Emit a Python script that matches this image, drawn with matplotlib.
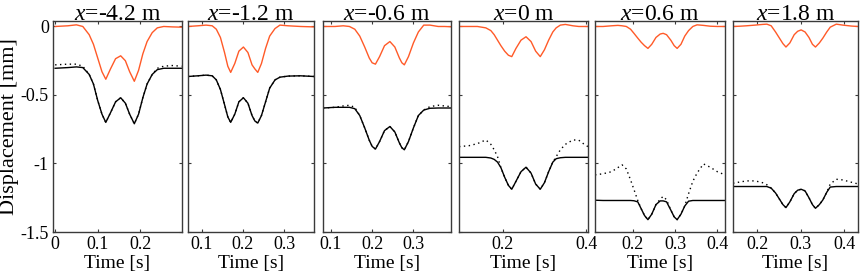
import matplotlib
matplotlib.use("Agg")
import matplotlib.pyplot as plt

plt.rcParams['font.family'] = ['Liberation Serif', 'DejaVu Serif']
plt.rcParams['mathtext.fontset'] = 'custom'
plt.rcParams['mathtext.rm'] = 'Liberation Serif'
plt.rcParams['mathtext.it'] = 'Liberation Serif:italic'

# panel titles (sensor position) and x limits
titles = ['-4.2', '-1.2', '-0.6', '0', '0.6', '1.8']
xlims = [(-0.005, 0.298), (0.066, 0.373), (0.081, 0.391),
         (0.096, 0.404), (0.111, 0.418), (0.144, 0.432)]
xticks = [[0, 0.1, 0.2], [0.1, 0.2, 0.3], [0.1, 0.2, 0.3],
          [0.2, 0.4], [0.2, 0.3, 0.4], [0.2, 0.3, 0.4]]

# x = -4.2 m
t1 = [0, 0.03, 0.05, 0.065, 0.08, 0.09, 0.1, 0.11, 0.119, 0.13, 0.142, 0.154,
      0.165, 0.175, 0.186, 0.196, 0.206, 0.216, 0.228, 0.24, 0.255, 0.275, 0.297]
top1 = [0, 0.005, 0.012, 0.0, -0.06, -0.13, -0.23, -0.33, -0.385, -0.31, -0.235, -0.214,
        -0.25, -0.33, -0.40, -0.32, -0.2, -0.11, -0.045, -0.01, 0.0, -0.003, -0.005]
bot1 = [-0.305, -0.30, -0.295, -0.30, -0.35, -0.42, -0.54, -0.64, -0.70, -0.63, -0.55, -0.52,
        -0.56, -0.64, -0.71, -0.64, -0.52, -0.42, -0.35, -0.315, -0.305, -0.305, -0.305]
mod1 = [-0.28, -0.275, -0.275, -0.29, -0.35, -0.42, -0.54, -0.64, -0.70, -0.63, -0.55, -0.52,
        -0.56, -0.64, -0.71, -0.64, -0.52, -0.42, -0.35, -0.305, -0.29, -0.285, -0.29]

# x = -1.2 m
t2 = [0.066, 0.09, 0.11, 0.125, 0.135, 0.145, 0.155, 0.163, 0.170, 0.18, 0.19, 0.201,
      0.212, 0.222, 0.229, 0.236, 0.245, 0.255, 0.265, 0.278, 0.29, 0.31, 0.34, 0.373]
top2 = [0.0, 0.005, 0.01, 0.005, -0.02, -0.08, -0.19, -0.29, -0.335, -0.27, -0.18, -0.15,
        -0.19, -0.28, -0.31, -0.335, -0.27, -0.16, -0.07, -0.015, 0.01, 0.005, 0.0, -0.003]
bot2 = [-0.365, -0.36, -0.355, -0.36, -0.39, -0.46, -0.57, -0.66, -0.70, -0.64, -0.55, -0.52,
        -0.56, -0.65, -0.69, -0.705, -0.65, -0.55, -0.45, -0.39, -0.37, -0.362, -0.36, -0.365]
mod2 = bot2

# x = -0.6 m
t3 = [0.081, 0.11, 0.13, 0.145, 0.158, 0.17, 0.182, 0.193, 0.2, 0.208, 0.218, 0.23, 0.243,
      0.255, 0.266, 0.272, 0.278, 0.288, 0.3, 0.312, 0.325, 0.34, 0.36, 0.375, 0.391]
top3 = [0.0, 0.0, 0.005, 0.0, -0.02, -0.07, -0.15, -0.23, -0.265, -0.275, -0.22, -0.14, -0.11,
        -0.15, -0.23, -0.265, -0.28, -0.22, -0.12, -0.04, 0.01, 0.01, 0.0, 0.0, -0.002]
bot3 = [-0.595, -0.59, -0.59, -0.59, -0.60, -0.65, -0.74, -0.83, -0.875, -0.895, -0.84, -0.76, -0.73,
        -0.77, -0.85, -0.885, -0.90, -0.84, -0.74, -0.65, -0.61, -0.597, -0.595, -0.595, -0.595]
mod3 = [-0.595, -0.59, -0.58, -0.575, -0.59, -0.65, -0.74, -0.83, -0.875, -0.895, -0.84, -0.76, -0.73,
        -0.77, -0.85, -0.885, -0.90, -0.84, -0.74, -0.65, -0.61, -0.585, -0.575, -0.58, -0.585]

# x = 0 m
t4 = [0.096, 0.12, 0.14, 0.16, 0.172, 0.18, 0.188, 0.196, 0.205, 0.214, 0.222, 0.232, 0.244, 0.256,
      0.268, 0.279, 0.29, 0.3, 0.31, 0.32, 0.328, 0.338, 0.35, 0.368, 0.382, 0.395, 0.404]
top4 = [0.0, 0.0, 0.0, -0.01, -0.03, -0.06, -0.1, -0.14, -0.18, -0.21, -0.22, -0.16, -0.1, -0.075,
        -0.11, -0.18, -0.22, -0.17, -0.1, -0.04, -0.01, 0.01, 0.015, 0.005, 0.0, 0.0, 0.0]
bot4 = [-0.955, -0.955, -0.955, -0.955, -0.96, -0.97, -0.99, -1.03, -1.10, -1.16, -1.188, -1.13, -1.06,
        -1.027, -1.07, -1.15, -1.188, -1.14, -1.06, -0.99, -0.965, -0.958, -0.955, -0.955, -0.955,
        -0.955, -0.955]
mod4 = [-0.877, -0.87, -0.855, -0.828, -0.86, -0.9, -0.95, -1.03, -1.10, -1.16, -1.188, -1.13, -1.06,
        -1.027, -1.07, -1.15, -1.188, -1.14, -1.06, -0.99, -0.95, -0.9, -0.86, -0.828, -0.83,
        -0.86, -0.877]

# x = 0.6 m
t5 = [0.111, 0.13, 0.15, 0.165, 0.175, 0.185, 0.195, 0.203, 0.212, 0.22, 0.228, 0.236, 0.245, 0.255,
      0.265, 0.272, 0.28, 0.29, 0.298, 0.305, 0.314, 0.323, 0.332, 0.342, 0.352, 0.367, 0.383, 0.4, 0.418]
top5 = [0.0, 0.0, 0.005, 0.008, 0.005, 0.0, -0.02, -0.05, -0.085, -0.115, -0.14, -0.16, -0.13, -0.08,
        -0.055, -0.05, -0.06, -0.1, -0.14, -0.16, -0.13, -0.07, -0.03, 0.0, 0.012, 0.008, 0.002, 0.0, 0.0]
bot5 = [-1.268, -1.27, -1.27, -1.27, -1.27, -1.27, -1.27, -1.272, -1.28, -1.33, -1.38, -1.41, -1.37, -1.30,
        -1.273, -1.273, -1.28, -1.34, -1.39, -1.41, -1.37, -1.31, -1.275, -1.27, -1.27, -1.27, -1.27,
        -1.27, -1.27]
mod5 = [-1.083, -1.075, -1.06, -1.03, -1.01, -1.04, -1.12, -1.19, -1.27, -1.33, -1.38, -1.41, -1.37, -1.30,
        -1.26, -1.24, -1.265, -1.34, -1.39, -1.41, -1.37, -1.31, -1.22, -1.13, -1.07, -1.003, -1.027,
        -1.06, -1.083]

# x = 1.8 m
t6 = [0.144, 0.16, 0.175, 0.195, 0.212, 0.222, 0.232, 0.242, 0.251, 0.259, 0.266, 0.275, 0.285, 0.293,
      0.301, 0.31, 0.319, 0.327, 0.334, 0.343, 0.351, 0.36, 0.368, 0.382, 0.397, 0.417, 0.432]
top6 = [0.0, 0.002, 0.005, 0.01, 0.015, 0.017, 0.005, -0.04, -0.085, -0.125, -0.15, -0.12, -0.06, -0.035,
        -0.025, -0.04, -0.08, -0.13, -0.15, -0.12, -0.085, -0.04, -0.005, 0.017, 0.01, 0.003, 0.0]
bot6 = [-1.168, -1.168, -1.168, -1.168, -1.168, -1.168, -1.18, -1.215, -1.26, -1.30, -1.322, -1.28, -1.22,
        -1.195, -1.188, -1.20, -1.25, -1.30, -1.327, -1.30, -1.266, -1.21, -1.172, -1.168, -1.168,
        -1.168, -1.168]
mod6 = [-1.144, -1.135, -1.127, -1.127, -1.14, -1.155, -1.18, -1.215, -1.26, -1.30, -1.322, -1.28, -1.22,
        -1.195, -1.188, -1.20, -1.25, -1.30, -1.327, -1.30, -1.266, -1.21, -1.15, -1.115, -1.12,
        -1.137, -1.149]

times = [t1, t2, t3, t4, t5, t6]
tops = [top1, top2, top3, top4, top5, top6]
bots = [bot1, bot2, bot3, bot4, bot5, bot6]
mods = [mod1, mod2, mod3, mod4, mod5, mod6]

W, H = 865, 279
edges = [(53, 182), (188, 314), (323, 451), (459, 588), (595, 725), (733, 858)]
y_top, y_bot = 21, 232
spine_col = '#3a3a3a'

fig = plt.figure(figsize=(W / 100, H / 100), dpi=100)

for i, (x0, x1) in enumerate(edges):
    ax = fig.add_axes([x0 / W, 1 - y_bot / H, (x1 - x0) / W, (y_bot - y_top) / H])
    ax.plot(times[i], mods[i], color='black', lw=1.0, ls=(0, (1, 2.5)))
    ax.plot(times[i], bots[i], color='black', lw=1.0, solid_joinstyle='round')
    ax.plot(times[i], tops[i], color='#ff5a28', lw=1.0, solid_joinstyle='round')

    ax.set_xlim(*xlims[i])
    ax.set_ylim(-1.5, 0.04)
    ax.set_xticks(xticks[i])
    ax.set_xticklabels([f'{v:g}' for v in xticks[i]])
    ax.set_yticks([0, -0.5, -1, -1.5])
    if i == 0:
        ax.set_yticklabels(['0', '-0.5', '-1', '-1.5'])
        ax.set_ylabel('Displacement [mm]', fontsize=16, labelpad=1)
    else:
        ax.set_yticklabels([])
    ax.set_xlabel('Time [s]', fontsize=14, labelpad=1)
    ax.set_title(r'$x$=' + titles[i] + ' m', fontsize=17, pad=1)

    ax.tick_params(direction='in', length=2.5, width=0.8, labelsize=13,
                   top=True, right=True, color=spine_col, pad=3)
    for s in ax.spines.values():
        s.set_color(spine_col)
        s.set_linewidth(1.0)

fig.savefig('out.png', dpi=100)
